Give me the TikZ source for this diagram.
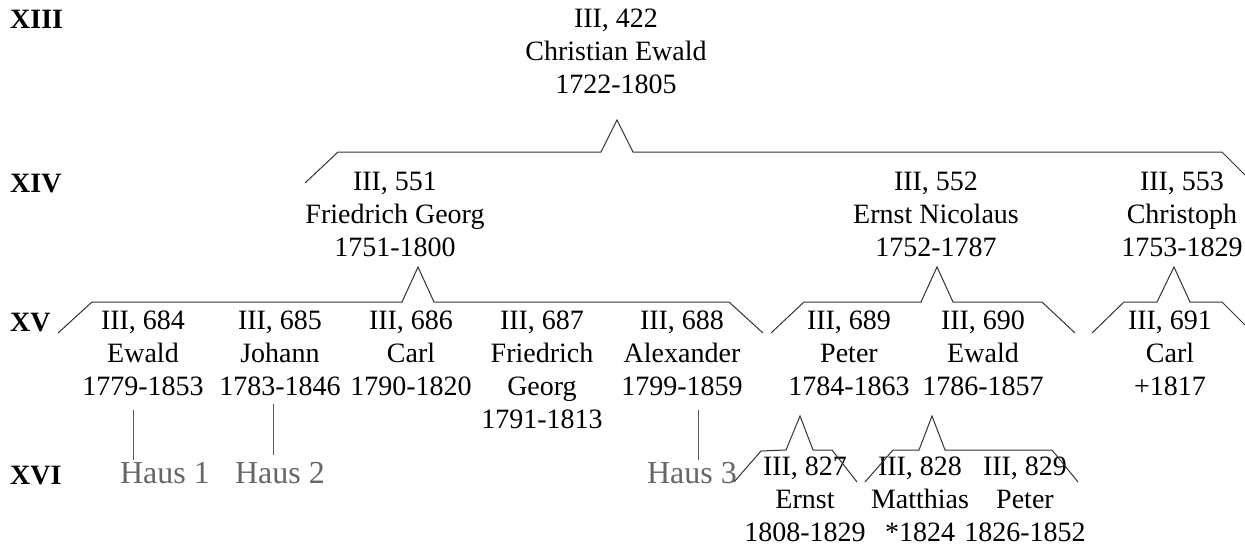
\documentclass[tikz,border=0pt]{standalone}
\usepackage{fontspec}
\setmainfont{Liberation Serif}
\tikzset{
  person/.style={align=center, inner sep=0pt, anchor=north, font=\fontsize{28}{33}\selectfont},
  gen/.style={anchor=base west, inner sep=0pt, font=\fontsize{28}{33}\selectfont\bfseries},
  haus/.style={anchor=base, inner sep=0pt, text=black!60, font=\fontsize{32}{36}\selectfont},
  branch/.style={draw=black!80, line width=1pt, line join=miter},
  hausline/.style={draw=black!65, line width=1pt},
}

\begin{document}
\begin{tikzpicture}[x=1pt,y=-1pt]
        \useasboundingbox (0,0) rectangle (1245,547);
        \clip (0,0) rectangle (1245,547);

        \node [gen] (g13) at (10,28) {XIII};
        \node [gen] (g14) at (10,192) {XIV};
        \node [gen] (g15) at (10,331) {XV};
        \node [gen] (g16) at (10,484) {XVI};

        \node [person] (p422) at (616,9) {III, 422\\Christian Ewald\\1722-1805};

        \node [person] (p551) at (395,172) {III, 551\\Friedrich Georg\\1751-1800};
        \node [person] (p552) at (936,172) {III, 552\\Ernst Nicolaus\\1752-1787};
        \node [person] (p553) at (1182,172) {III, 553\\Christoph\\1753-1829};

        \node [person] (p684) at (143,311) {III, 684\\Ewald\\1779-1853};
        \node [person] (p685) at (280,311) {III, 685\\Johann\\1783-1846};
        \node [person] (p686) at (411,311) {III, 686\\Carl\\1790-1820};
        \node [person] (p687) at (542,311) {III, 687\\Friedrich\\Georg\\1791-1813};
        \node [person] (p688) at (682,311) {III, 688\\Alexander\\1799-1859};
        \node [person] (p689) at (849,311) {III, 689\\Peter\\1784-1863};
        \node [person] (p690) at (983,311) {III, 690\\Ewald\\1786-1857};
        \node [person] (p691) at (1170,311) {III, 691\\Carl\\+1817};

        \node [person] (p827) at (805,457) {III, 827\\Ernst\\1808-1829};
        \node [person] (p828) at (920,457) {III, 828\\Matthias\\*1824};
        \node [person] (p829) at (1025,457) {III, 829\\Peter\\1826-1852};

        \node [haus] (haus1) at (165,483) {Haus 1};
        \node [haus] (haus2) at (280,483) {Haus 2};
        \node [haus] (haus3) at (692,483) {Haus 3};

        \draw [branch] (305,183) -- (338,152) -- (601,152) -- (617,120) -- (633,152) -- (1222,152) -- (1253,183);

        \draw [branch] (58,333) -- (92,302) -- (402,302) -- (418,267) -- (434,302) -- (729,302) -- (763,333);
        \draw [branch] (771,333) -- (804,302) -- (921,302) -- (937,267) -- (953,302) -- (1042,302) -- (1075,333);
        \draw [branch] (1092,333) -- (1124,302) -- (1157,302) -- (1174,267) -- (1190,302) -- (1222,302) -- (1253,333);

        \draw [branch] (734,482) -- (761,451) -- (786,450) -- (800,416) -- (813,450) -- (832,450) -- (857,482);
        \draw [branch] (865,482) -- (893,450) -- (919,450) -- (932,416) -- (945,450) -- (1052,450) -- (1078,482);

        \draw [hausline] ([xshift=-10pt, yshift=-14pt]p684.south) to ([xshift=-32pt, yshift=2pt]haus1.north);
        \draw [hausline] ([xshift=-7pt, yshift=-8pt]p685.south) to ([xshift=-7pt, yshift=7pt]haus2.north);
        \draw [hausline] ([xshift=16pt, yshift=-14pt]p688.south) to ([xshift=6pt, yshift=2pt]haus3.north);
    \end{tikzpicture}
\end{document}
